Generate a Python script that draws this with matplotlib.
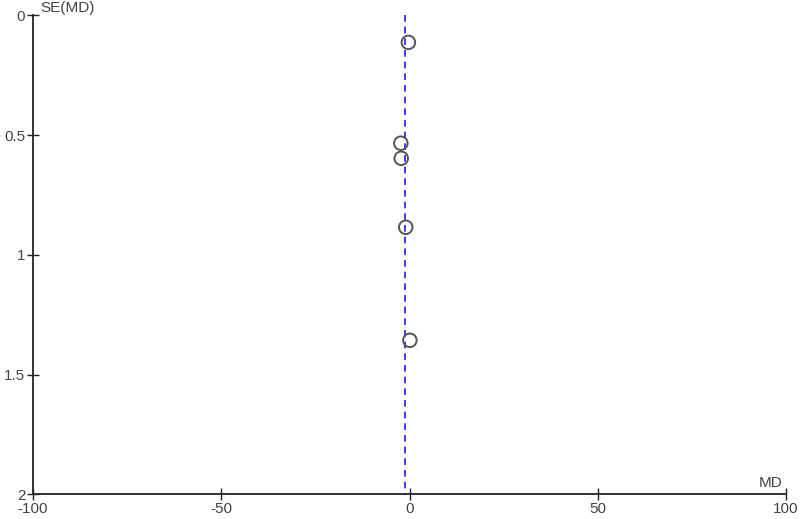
import matplotlib
matplotlib.use("Agg")
import matplotlib.pyplot as plt

# funnel plot data
md = [-0.3, -2.3, -2.2, -1.0, 0.1]
se = [0.113, 0.534, 0.597, 0.885, 1.357]
pooled_md = -1.1

x_ticks = [-100, -50, 0, 50, 100]
y_ticks = [0, 0.5, 1, 1.5, 2]
y_labels = ["0", "0.5", "1", "1.5", "2"]

plt.rcParams["font.family"] = ["Liberation Sans", "DejaVu Sans"]

fig = plt.figure(figsize=(8, 5.19), dpi=100)
ax = fig.add_axes([0.04125, 0.0476, 0.94125, 0.9229])

ax.plot([pooled_md, pooled_md], [0, 2], color="#1a1aff", lw=1.2, ls=(0, (4, 3)), zorder=1)
ax.scatter(md, se, s=95, facecolors="none", edgecolors="#555555", linewidths=1.4, zorder=3)

ax.set_xlim(-100, 100)
ax.set_ylim(2, 0)
ax.set_xticks(x_ticks)
ax.set_xticklabels([str(t) for t in x_ticks])
ax.set_yticks(y_ticks)
ax.set_yticklabels(y_labels)

for s in ["top", "right"]:
    ax.spines[s].set_visible(False)
for s in ["left", "bottom"]:
    ax.spines[s].set_color("#222222")
    ax.spines[s].set_linewidth(1.3)

ax.tick_params(direction="inout", length=9, width=1.0, color="#222222",
               labelsize=11, labelcolor="#444444", pad=1)

ax.text(-98, 0.0, "SE(MD)", fontsize=11, color="#444444", va="bottom", ha="left")
ax.text(99, 1.98, "MD", fontsize=11, color="#444444", va="bottom", ha="right")

fig.savefig("out.png", dpi=100)
